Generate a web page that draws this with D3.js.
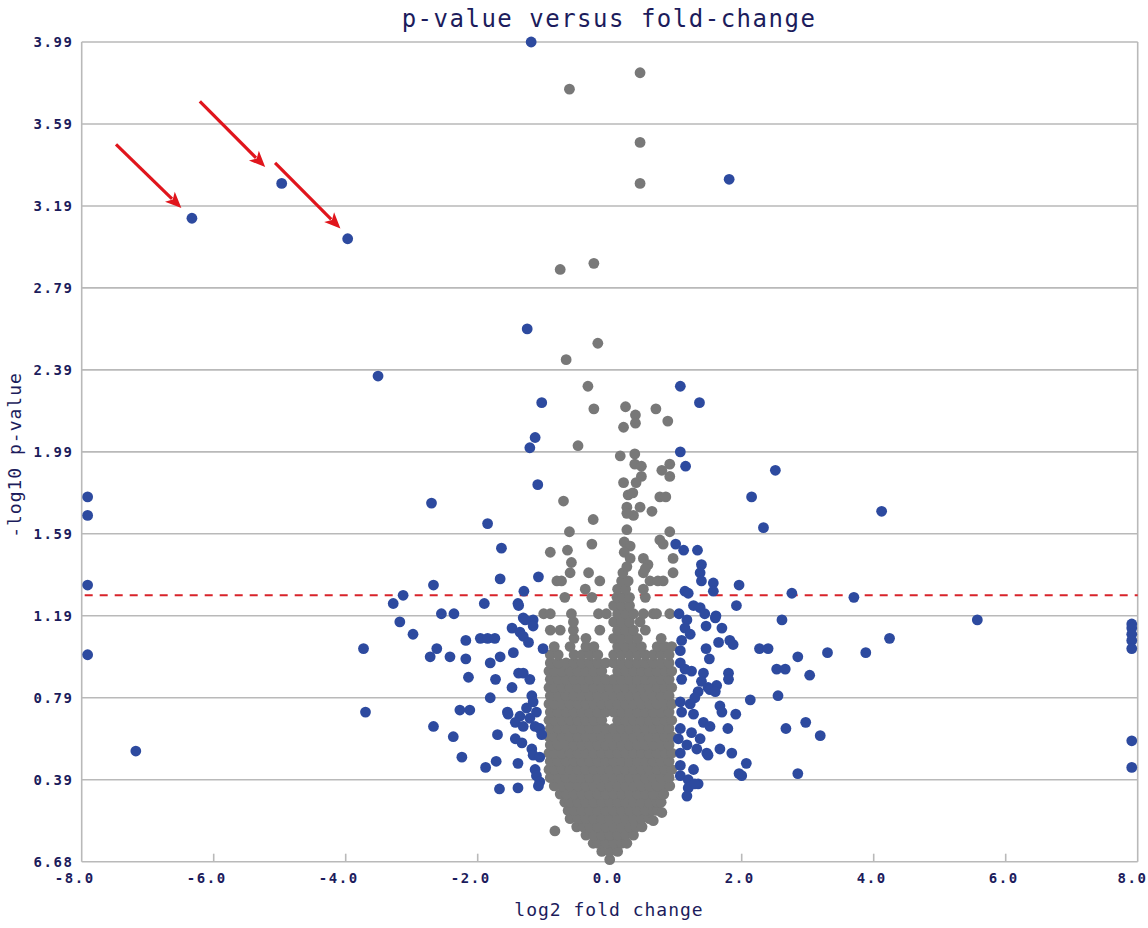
<!DOCTYPE html>
<html>
<head>
<meta charset="utf-8">
<script src="https://cdnjs.cloudflare.com/ajax/libs/d3/7.8.5/d3.min.js"></script>
<style>
  body { margin: 0; background: #ffffff; }
  text { font-family: "DejaVu Sans Mono", monospace; fill: #1c1c5c; }
</style>
</head>
<body>
<div id="plot"></div>
<script>
// volcano plot: log2 fold change vs -log10 p-value

const xTicks = [-8, -6, -4, -2, 0, 2, 4, 6, 8];
const xTickLabels = ["-8.0", "-6.0", "-4.0", "-2.0", "0.0", "2.0", "4.0", "6.0", "8.0"];
const yTicks = [-0.01, 0.39, 0.79, 1.19, 1.59, 1.99, 2.39, 2.79, 3.19, 3.59, 3.99];
const yTickLabels = ["6.68", "0.39", "0.79", "1.19", "1.59", "1.99", "2.39", "2.79", "3.19", "3.59", "3.99"];
const threshold = 1.29;

// dense non-significant core, one row per -log10 p level: [p, fc, fc, ...]
const grayRows = [
  [0.00, 0.00],
  [0.04, -0.12, 0.00, 0.12],
  [0.08, -0.25, -0.18, -0.06, 0.06, 0.18, 0.26],
  [0.12, -0.36, -0.24, -0.12, 0.00, 0.12, 0.24, 0.36],
  [0.16, -0.50, -0.40, -0.30, -0.18, -0.06, 0.06, 0.18, 0.30, 0.40, 0.49],
  [0.20, -0.60, -0.48, -0.36, -0.24, -0.12, 0.00, 0.12, 0.24, 0.36, 0.48, 0.60],
  [0.24, -0.63, -0.54, -0.42, -0.30, -0.18, -0.06, 0.06, 0.18, 0.30, 0.42, 0.54, 0.66, 0.72],
  [0.28, -0.68, -0.60, -0.48, -0.36, -0.24, -0.12, 0.00, 0.12, 0.24, 0.36, 0.48, 0.60, 0.72, 0.78],
  [0.32, -0.75, -0.66, -0.54, -0.42, -0.30, -0.18, -0.06, 0.06, 0.18, 0.30, 0.42, 0.54, 0.66, 0.78, 0.82],
  [0.36, -0.84, -0.72, -0.60, -0.48, -0.36, -0.24, -0.12, 0.00, 0.12, 0.24, 0.36, 0.48, 0.60, 0.72, 0.84, 0.91],
  [0.40, -0.90, -0.78, -0.66, -0.54, -0.42, -0.30, -0.18, -0.06, 0.06, 0.18, 0.30, 0.42, 0.54, 0.66, 0.78, 0.90],
  [0.44, -0.92, -0.84, -0.72, -0.60, -0.48, -0.36, -0.24, -0.12, 0.00, 0.12, 0.24, 0.36, 0.48, 0.60, 0.72, 0.84, 0.94],
  [0.48, -0.90, -0.78, -0.66, -0.54, -0.42, -0.30, -0.18, -0.06, 0.06, 0.18, 0.30, 0.42, 0.54, 0.66, 0.78, 0.90],
  [0.52, -0.92, -0.84, -0.72, -0.60, -0.48, -0.36, -0.24, -0.12, 0.00, 0.12, 0.24, 0.36, 0.48, 0.60, 0.72, 0.84, 0.94],
  [0.56, -0.90, -0.78, -0.66, -0.54, -0.42, -0.30, -0.18, -0.06, 0.06, 0.18, 0.30, 0.42, 0.54, 0.66, 0.78, 0.90],
  [0.60, -0.92, -0.84, -0.72, -0.60, -0.48, -0.36, -0.24, -0.12, 0.00, 0.12, 0.24, 0.36, 0.48, 0.60, 0.72, 0.84, 0.94],
  [0.64, -0.90, -0.78, -0.66, -0.54, -0.42, -0.30, -0.18, -0.06, 0.06, 0.18, 0.30, 0.42, 0.54, 0.66, 0.78, 0.90],
  [0.68, -0.92, -0.84, -0.72, -0.60, -0.48, -0.36, -0.24, -0.12, 0.12, 0.24, 0.36, 0.48, 0.60, 0.72, 0.84, 0.94],
  [0.72, -0.90, -0.78, -0.66, -0.54, -0.42, -0.30, -0.18, -0.06, 0.06, 0.18, 0.30, 0.42, 0.54, 0.66, 0.78, 0.90],
  [0.76, -0.92, -0.84, -0.72, -0.60, -0.48, -0.36, -0.24, -0.12, 0.00, 0.12, 0.24, 0.36, 0.48, 0.60, 0.72, 0.84, 0.94],
  [0.80, -0.90, -0.78, -0.66, -0.54, -0.42, -0.30, -0.18, -0.06, 0.06, 0.18, 0.30, 0.42, 0.54, 0.66, 0.78, 0.90],
  [0.84, -0.92, -0.84, -0.72, -0.60, -0.48, -0.36, -0.24, -0.12, 0.00, 0.12, 0.24, 0.36, 0.48, 0.60, 0.72, 0.84, 0.94],
  [0.88, -0.90, -0.78, -0.66, -0.54, -0.42, -0.30, -0.18, -0.06, 0.06, 0.18, 0.30, 0.42, 0.54, 0.66, 0.78, 0.90],
  [0.92, -0.92, -0.84, -0.72, -0.60, -0.48, -0.36, -0.24, -0.12, 0.12, 0.24, 0.36, 0.48, 0.60, 0.72, 0.84, 0.94],
  [0.96, -0.90, -0.78, -0.66, -0.54, -0.42, -0.30, -0.18, -0.06, 0.06, 0.18, 0.30, 0.42, 0.54, 0.66, 0.78, 0.90],
  [1.00, -0.90, -0.78, -0.54, -0.42, -0.30, -0.18, 0.06, 0.18, 0.30, 0.42, 0.54, 0.66, 0.78, 0.90],
  [1.04, -0.84, -0.60, -0.36, -0.24, 0.12, 0.24, 0.36, 0.48, 0.72, 0.84, 0.94],
  [1.08, -0.54, -0.36, 0.06, 0.18, 0.30, 0.42, 0.78],
  [1.12, -0.90, -0.75, -0.55, -0.15, 0.12, 0.24, 0.36, 0.54],
  [1.16, -0.55, 0.06, 0.18, 0.30, 0.46],
  [1.20, -1.00, -0.90, -0.58, -0.17, -0.05, 0.12, 0.24, 0.36, 0.51, 0.66, 0.71, 0.91],
  [1.24, 0.06, 0.18, 0.30],
  [1.28, -0.68, -0.27, 0.11, 0.20, 0.30, 0.54],
  [1.32, -0.37, 0.12, 0.24, 0.51],
  [1.36, -0.80, -0.73, -0.15, 0.18, 0.28, 0.61, 0.73, 0.81],
  [1.40, -0.60, -0.32, 0.20, 0.51, 0.96]
];

// sparse non-significant points above the core: [fc, p]
const grayScatter = [
  [-0.61, 3.76], [0.46, 3.84], [0.46, 3.50], [0.46, 3.30], [-0.75, 2.88], [-0.24, 2.91],
  [-0.18, 2.52], [-0.66, 2.44], [-0.33, 2.31], [-0.24, 2.20], [0.24, 2.21], [0.39, 2.17],
  [0.39, 2.13], [0.70, 2.20], [0.88, 2.14], [0.21, 2.11], [-0.48, 2.02], [0.16, 1.97],
  [0.38, 1.98], [0.38, 1.93], [0.48, 1.92], [0.48, 1.87], [0.79, 1.90], [0.91, 1.93],
  [0.91, 1.87], [0.21, 1.84], [0.40, 1.84], [-0.70, 1.75], [0.28, 1.78], [0.35, 1.79],
  [0.76, 1.77], [0.85, 1.77], [0.26, 1.72], [0.46, 1.72], [0.36, 1.68], [0.26, 1.69],
  [0.64, 1.70], [-0.25, 1.66], [-0.61, 1.60], [0.26, 1.61], [0.22, 1.55], [0.31, 1.53],
  [0.22, 1.50], [0.31, 1.47], [0.26, 1.43], [0.91, 1.60], [0.76, 1.56], [0.81, 1.54],
  [0.96, 1.47], [-0.27, 1.54], [-0.90, 1.50], [-0.64, 1.51], [0.51, 1.47], [0.58, 1.44],
  [0.54, 1.42], [-0.58, 1.45], [-0.83, 0.14], [0.79, 0.23], [0.66, 0.19]
];

// significant points (|fc| > 1): [fc, p]
const bluePoints = [
  [-1.19, 3.99], [1.81, 3.32], [-6.33, 3.13], [-4.97, 3.30], [-3.97, 3.03], [-1.25, 2.59],
  [-3.51, 2.36], [1.07, 2.31], [-1.03, 2.23], [1.36, 2.23], [-1.13, 2.06], [-1.21, 2.01],
  [1.07, 1.99], [1.15, 1.92], [2.51, 1.90], [-1.09, 1.83], [2.15, 1.77], [-2.70, 1.74],
  [-1.85, 1.64], [2.33, 1.62], [4.12, 1.70], [1.00, 1.54], [1.12, 1.51], [1.33, 1.51],
  [-1.64, 1.52], [1.39, 1.44], [1.37, 1.40], [1.39, 1.36], [-1.08, 1.38], [-2.67, 1.34],
  [-1.66, 1.37], [1.57, 1.35], [1.57, 1.31], [1.96, 1.34], [1.14, 1.31], [1.19, 1.30],
  [-1.30, 1.31], [2.76, 1.30], [3.70, 1.28], [-3.13, 1.29], [-3.28, 1.25], [-1.90, 1.25],
  [-1.39, 1.25], [1.92, 1.24], [1.27, 1.24], [1.37, 1.23], [1.44, 1.20], [1.61, 1.19],
  [1.60, 1.18], [-2.55, 1.20], [-2.36, 1.20], [-3.18, 1.16], [-2.98, 1.10], [2.61, 1.17],
  [5.57, 1.17], [-1.16, 1.17], [1.17, 1.17], [1.14, 1.13], [1.22, 1.10], [1.09, 1.07],
  [1.05, 1.20], [1.46, 1.14], [1.70, 1.13], [1.65, 1.06], [1.82, 1.07], [1.87, 1.05],
  [2.27, 1.03], [2.40, 1.03], [4.24, 1.08], [3.30, 1.01], [3.88, 1.01], [1.46, 1.03],
  [1.51, 0.98], [2.85, 0.99], [2.53, 0.93], [2.66, 0.93], [3.03, 0.90], [1.80, 0.91],
  [1.80, 0.88], [1.42, 0.91], [1.39, 0.87], [1.24, 0.92], [1.09, 0.88], [1.07, 1.02],
  [1.07, 0.96], [1.14, 0.93], [1.62, 0.85], [1.49, 0.84], [1.52, 0.83], [1.60, 0.82],
  [1.34, 0.82], [1.29, 0.79], [2.13, 0.78], [2.55, 0.80], [1.67, 0.75], [1.70, 0.72],
  [1.91, 0.71], [2.97, 0.67], [2.67, 0.64], [3.19, 0.605], [1.79, 0.64],
  [1.07, 0.77], [1.22, 0.76], [1.09, 0.72], [1.27, 0.71], [1.42, 0.67], [1.52, 0.65],
  [1.07, 0.64], [1.24, 0.62], [1.04, 0.59], [1.37, 0.59], [1.17, 0.56], [1.32, 0.54],
  [1.47, 0.52], [1.07, 0.52], [1.49, 0.51], [1.67, 0.54], [1.85, 0.52], [2.07, 0.47],
  [1.96, 0.42], [2.00, 0.41], [2.85, 0.42], [1.07, 0.46], [1.27, 0.44], [1.07, 0.41],
  [1.19, 0.39], [1.19, 0.35], [1.34, 0.37], [1.17, 0.31], [1.29, 0.37],
  [-1.38, 1.24], [-1.31, 1.18], [-1.28, 1.17], [-1.16, 1.14], [-1.48, 1.13], [-1.36, 1.11],
  [-1.31, 1.09], [-1.23, 1.06], [-1.96, 1.08], [-1.85, 1.08], [-1.74, 1.08], [-1.46, 1.01],
  [-1.01, 1.03], [-3.73, 1.03], [-2.18, 1.07], [-2.62, 1.03], [-2.72, 0.99], [-2.42, 0.99],
  [-2.18, 0.98], [-1.81, 0.96], [-1.66, 0.99], [-2.14, 0.89], [-1.73, 0.88], [-1.48, 0.84],
  [-1.38, 0.91], [-1.31, 0.91], [-1.21, 0.88], [-1.81, 0.79], [-3.70, 0.72], [-2.27, 0.73],
  [-2.12, 0.73], [-2.67, 0.65], [-2.37, 0.60], [-1.70, 0.61], [-1.55, 0.72],
  [-1.18, 0.80], [-1.16, 0.77], [-1.26, 0.74], [-1.11, 0.72], [-1.54, 0.71], [-1.36, 0.70],
  [-1.21, 0.69], [-1.43, 0.67], [-1.31, 0.65], [-1.13, 0.65], [-1.06, 0.64], [-1.03, 0.61],
  [-1.43, 0.59], [-1.33, 0.57], [-1.18, 0.54], [-1.16, 0.51], [-1.06, 0.50], [-2.24, 0.50],
  [-1.88, 0.45], [-1.72, 0.48], [-1.39, 0.47], [-1.67, 0.345], [-1.39, 0.35], [-1.13, 0.44],
  [-1.11, 0.41], [-1.06, 0.38], [-1.08, 0.36],
  [-7.91, 1.77], [-7.91, 1.68], [-7.91, 1.34], [-7.91, 1.00], [-7.18, 0.53],
  [7.91, 1.15], [7.91, 1.13], [7.91, 1.10], [7.91, 1.07], [7.91, 1.03], [7.91, 0.58], [7.91, 0.45]
];

// red annotation arrows: [fcStart, pStart, fcEnd, pEnd]
const arrowLines = [
  [-7.48, 3.49, -6.49, 3.18],
  [-6.21, 3.70, -5.22, 3.38],
  [-5.07, 3.40, -4.08, 3.08]
];

const width = 1148;
const height = 928;

const x = d3.scaleLinear().domain([-8, 8]).range([81.7, 1137.7]);
const y = d3.scaleLinear().domain([-0.01, 3.99]).range([861.7, 42]);

const svg = d3.select("#plot")
  .append("svg")
  .attr("width", width)
  .attr("height", height);

svg.append("rect").attr("width", width).attr("height", height).attr("fill", "#ffffff");

// horizontal grid lines
svg.append("g")
  .selectAll("line")
  .data(yTicks)
  .enter().append("line")
  .attr("x1", x(-8)).attr("x2", x(8))
  .attr("y1", d => y(d)).attr("y2", d => y(d))
  .attr("stroke", "#b9b9b9")
  .attr("stroke-width", 1.6);

// frame sides
svg.append("g")
  .selectAll("line")
  .data([-8, 8])
  .enter().append("line")
  .attr("x1", d => x(d)).attr("x2", d => x(d))
  .attr("y1", y(3.99)).attr("y2", y(-0.01))
  .attr("stroke", "#b9b9b9")
  .attr("stroke-width", 1.6);

// x tick marks
svg.append("g")
  .selectAll("line")
  .data(xTicks.slice(1, -1))
  .enter().append("line")
  .attr("x1", d => x(d)).attr("x2", d => x(d))
  .attr("y1", y(-0.01)).attr("y2", y(-0.01) - 8)
  .attr("stroke", "#b9b9b9")
  .attr("stroke-width", 1.6);

// tick labels
svg.append("g")
  .selectAll("text")
  .data(yTicks)
  .enter().append("text")
  .attr("x", 73.5)
  .attr("y", d => y(d))
  .attr("dy", "0.36em")
  .attr("text-anchor", "end")
  .style("font-size", "14px")
  .style("font-weight", "bold")
  .style("letter-spacing", "1.6px")
  .text((d, i) => yTickLabels[i]);

// labels sit with the decimal point on the tick; the last one is kept inside the page
svg.append("g")
  .selectAll("text")
  .data(xTicks)
  .enter().append("text")
  .attr("x", d => Math.min(x(d) + 13.2, width - 0.5))
  .attr("y", 882.5)
  .attr("text-anchor", "end")
  .style("font-size", "14px")
  .style("font-weight", "bold")
  .style("letter-spacing", "1.6px")
  .text((d, i) => xTickLabels[i]);

// titles
svg.append("text")
  .attr("x", 609)
  .attr("y", 27)
  .attr("text-anchor", "middle")
  .style("font-size", "24px")
  .style("letter-spacing", "1.5px")
  .text("p-value versus fold-change");

svg.append("text")
  .attr("x", 609)
  .attr("y", 916)
  .attr("text-anchor", "middle")
  .style("font-size", "18px")
  .style("letter-spacing", "1px")
  .text("log2 fold change");

svg.append("text")
  .attr("transform", "translate(21,455) rotate(-90)")
  .attr("text-anchor", "middle")
  .style("font-size", "18px")
  .style("letter-spacing", "1px")
  .text("-log10 p-value");

// significance threshold
svg.append("line")
  .attr("x1", x(-8) + 3).attr("x2", x(8))
  .attr("y1", y(threshold)).attr("y2", y(threshold))
  .attr("stroke", "#d8232a")
  .attr("stroke-width", 2)
  .attr("stroke-dasharray", "8,7");

// points
const grayPoints = grayRows.flatMap(r => r.slice(1).map(fc => [fc, r[0]])).concat(grayScatter);

svg.append("g")
  .selectAll("circle")
  .data(grayPoints)
  .enter().append("circle")
  .attr("cx", d => x(d[0]))
  .attr("cy", d => y(d[1]))
  .attr("r", 5.4)
  .attr("fill", "#787878");

svg.append("g")
  .selectAll("circle")
  .data(bluePoints)
  .enter().append("circle")
  .attr("cx", d => x(d[0]))
  .attr("cy", d => y(d[1]))
  .attr("r", 5.4)
  .attr("fill", "#2d4a9f");

// arrows
const arrowG = svg.append("g");
arrowLines.forEach(a => {
  const x1 = x(a[0]), y1 = y(a[1]), x2 = x(a[2]), y2 = y(a[3]);
  const len = Math.hypot(x2 - x1, y2 - y1);
  const ux = (x2 - x1) / len, uy = (y2 - y1) / len;
  const head = 16, half = 7;
  const bx = x2 - ux * head, by = y2 - uy * head;
  arrowG.append("line")
    .attr("x1", x1).attr("y1", y1)
    .attr("x2", x2 - ux * (head - 3)).attr("y2", y2 - uy * (head - 3))
    .attr("stroke", "#e0151c")
    .attr("stroke-width", 3.2);
  arrowG.append("path")
    .attr("d", `M${x2},${y2}L${bx - uy * half},${by + ux * half}L${x2 - ux * (head - 4)},${y2 - uy * (head - 4)}L${bx + uy * half},${by - ux * half}Z`)
    .attr("fill", "#e0151c");
});
</script>
</body>
</html>
